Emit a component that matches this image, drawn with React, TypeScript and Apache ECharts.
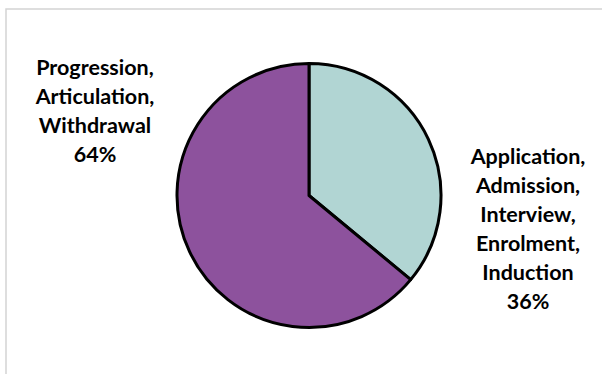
import React, { useEffect, useRef } from "react";
import * as echarts from "echarts";

const categories: string[] = [
  "Application, Admission, Interview, Enrolment, Induction",
  "Progression, Articulation, Withdrawal",
];
const values: number[] = [36, 64];
const colors: string[] = ["#B1D5D3", "#8D529D"];

export default function App() {
  const ref = useRef<HTMLDivElement>(null);
  useEffect(() => {
    if (!ref.current) return;
    const chart = echarts.init(ref.current, null, { renderer: "svg" });
    const labelPos = [
      { x: 528, y: 228 },
      { x: 95, y: 110 },
    ];
    chart.setOption({
      animation: false,
      backgroundColor: "#ffffff",
      graphic: [
        {
          type: "rect",
          shape: { x: 6, y: 9, width: 700, height: 500 },
          style: { fill: "none", stroke: "#d4d4d4", lineWidth: 1.5 },
          silent: true,
        },
      ],
      series: [
        {
          type: "pie",
          center: [309, 195.5],
          radius: 132,
          startAngle: 90,
          clockwise: true,
          itemStyle: { borderColor: "#000000", borderWidth: 3 },
          label: {
            show: true,
            position: "outside",
            color: "#000000",
            fontFamily: "Lato",
            fontWeight: "bold",
            fontSize: 21.5,
            lineHeight: 29,
            align: "center",
            formatter: (p: any) =>
              String(p.name).split(", ").join(",\n") +
              "\n" +
              Math.round(p.percent) +
              "%",
          },
          labelLine: { show: false },
          labelLayout: (params: any) => ({
            x: labelPos[params.dataIndex].x,
            y: labelPos[params.dataIndex].y,
            align: "center",
            verticalAlign: "middle",
          }),
          data: categories.map((name, i) => ({
            name,
            value: values[i],
            itemStyle: { color: colors[i] },
          })),
        },
      ],
    });
    return () => chart.dispose();
  }, []);
  return (
    <div
      ref={ref}
      style={{ position: "absolute", left: 0, top: 0, width: 602, height: 374 }}
    />
  );
}
